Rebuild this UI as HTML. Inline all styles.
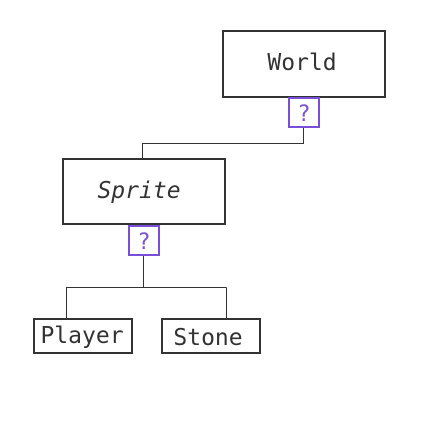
<!DOCTYPE html>
<html><head><style>body{margin:0;background:#fff}svg{display:block}</style></head><body>
<svg width="448" height="448" viewBox="0 0 448 448" xmlns="http://www.w3.org/2000/svg">
<rect width="448" height="448" fill="#fff"/>
<g fill="none" stroke="#333" stroke-width="1">
<polyline points="303.5,127 303.5,143.5 142.5,143.5 142.5,159"/>
<polyline points="143.5,255 143.5,287.5 66.5,287.5 66.5,319"/>
<line x1="143.5" y1="287.5" x2="226.5" y2="287.5"/>
<line x1="226.5" y1="287.5" x2="226.5" y2="319"/>
</g>
<g fill="#fff" stroke="#333" stroke-width="2">
<rect x="223" y="31" width="162" height="66"/>
<rect x="63" y="159" width="162" height="65"/>
<rect x="34" y="319" width="98" height="34"/>
<rect x="162" y="319" width="98" height="34"/>
</g>
<g fill="#fff" stroke="#7a4fd8" stroke-width="2">
<rect x="289" y="98" width="30" height="29"/>
<rect x="129" y="226" width="30" height="29"/>
</g>
<g font-family="DejaVu Sans Mono, monospace" font-size="23" fill="#333" text-anchor="middle">
<text x="302" y="70">World</text>
<text x="139" y="198" font-style="italic">Sprite</text>
<text x="82" y="343">Player</text>
<text x="208" y="345">Stone</text>
</g>
<g font-family="DejaVu Sans Mono, monospace" font-size="22" fill="#7a4fd8" text-anchor="middle">
<text x="304" y="121">?</text>
<text x="144" y="249">?</text>
</g>
</svg>
</body></html>
